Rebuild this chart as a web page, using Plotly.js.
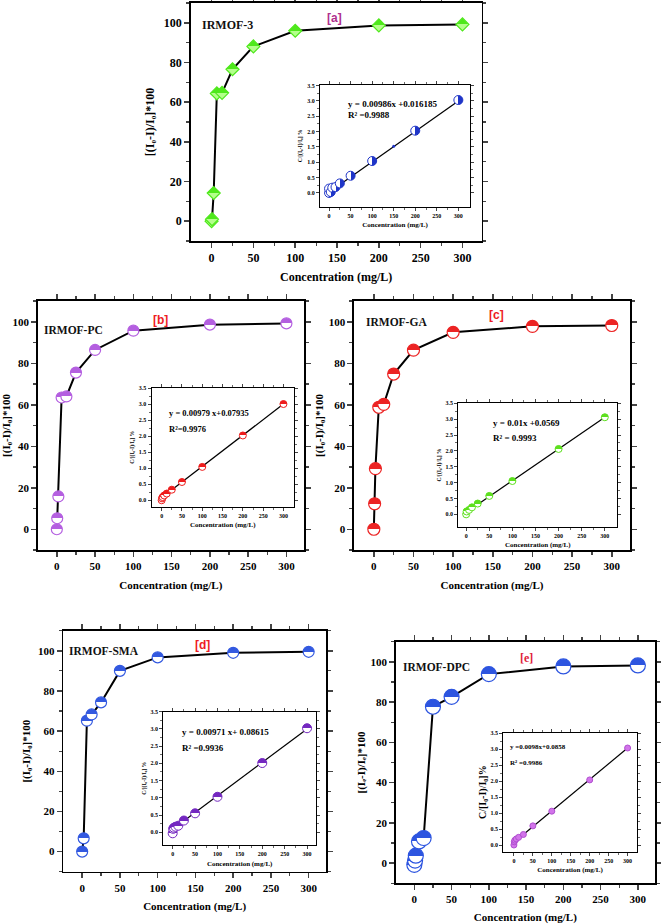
<!DOCTYPE html>
<html>
<head>
<meta charset="utf-8">
<script src="https://cdn.plot.ly/plotly-3.0.1.min.js"></script>
<style>html,body{margin:0;padding:0;background:#fff}#chart{width:661px;height:924px}</style>
</head>
<body>
<div id="chart"></div>
<script>
// ---------- data ----------
const concA = [0, 0.5, 2.5, 6.25, 12.5, 25, 50, 100, 200, 300];
const quenchA = [0, 1, 14.2, 64.4, 64.7, 76.6, 88.1, 96, 98.7, 99.2];
const concB = [0, 0.5, 2, 6.25, 12.5, 25, 50, 100, 200, 300];
const quenchB = [0, 5.3, 15.8, 63.5, 64, 75.5, 86.4, 95.7, 98.6, 99.2];
const concC = [0, 1, 2, 6.25, 12.5, 25, 50, 100, 200, 300];
const quenchC = [0, 12.3, 29.2, 58.8, 60.2, 74.8, 86.3, 94.9, 97.8, 98.2];
const concD = [0, 2, 6.25, 12.5, 25, 50, 100, 200, 300];
const quenchD = [0, 6.6, 65.2, 68.3, 74.3, 90, 96.7, 99, 99.5];
const concE = [0, 1, 2, 6.25, 12.5, 25, 50, 100, 200, 300];
const quenchE = [-0.8, 1.3, 3.7, 10.8, 12.5, 77.7, 82.6, 93.9, 97.7, 98.2];

// insets: C/[(I0-I)/I0]
const insA_x = [0, 0, 4, 7.5, 15, 25, 50, 100, 200, 300];
const insA_y = [0, 0.14, 0.03, 0.17, 0.19, 0.31, 0.56, 1.04, 2.03, 3.03];
const insA_dotX = [150];
const insA_dotY = [1.52];
const insB_x = [0, 1, 2.5, 6.25, 12.5, 25, 50, 100, 200, 300];
const insB_y = [0.0, 0.06, 0.1, 0.15, 0.21, 0.33, 0.57, 1.04, 2.02, 3.0];
const insC_x = [0, 1, 6.25, 12.5, 25, 50, 100, 200, 300];
const insC_y = [0, 0.09, 0.14, 0.22, 0.34, 0.58, 1.05, 2.06, 3.06];
const insD_x = [0, 1, 2.5, 6.25, 12.5, 25, 50, 100, 200, 300];
const insD_y = [-0.03, 0.1, 0.13, 0.16, 0.19, 0.34, 0.55, 1.03, 2.01, 3.02];
const insE_x = [0, 1, 2.5, 6.25, 12.5, 25, 50, 100, 200, 300];
const insE_y = [0.0, 0.1, 0.15, 0.19, 0.24, 0.33, 0.6, 1.06, 2.04, 3.04];

// linear-fit lines (end points)
const fitA_x = [0, 300], fitA_y = [0.02, 3.0];
const fitB_x = [10, 300], fitB_y = [0.18, 3.0];
const fitC_x = [10, 300], fitC_y = [0.16, 3.06];
const fitD_x = [0, 300], fitD_y = [0.09, 3.0];
const fitE_x = [25, 300], fitE_y = [0.33, 3.04];

const sampleNames = ['IRMOF-3', 'IRMOF-PC', 'IRMOF-GA', 'IRMOF-SMA', 'IRMOF-DPC'];
const panelTags = ['[a]', '[b]', '[c]', '[d]', '[e]'];
const equations = ['y = 0.00986x +0.016185', 'y = 0.00979 x+0.07935', 'y = 0.01x +0.0569', 'y = 0.00971 x+ 0.08615', 'y =0.0098x+0.0858'];
const rSquared = ['R² =0.9988', 'R²=0.9976', 'R² = 0.9993', 'R² =0.9936', 'R² =0.9986'];

// ---------- helpers ----------
const W = 661, H = 924;
const SERIF = 'Liberation Serif, Times New Roman, serif';
const SANS = 'Liberation Sans, Arial, sans-serif';
function dx(a, b) { return [a / W, b / W]; }
function dy(top, bot) { return [1 - bot / H, 1 - top / H]; }

function mainX(dom, fs, standoff, anchor) {
  return {domain: dom, anchor: anchor, range: [-25, 323], tickvals: [0, 50, 100, 150, 200, 250, 300],
    showline: true, mirror: 'allticks', linewidth: 1.6, linecolor: '#000', ticks: 'outside', ticklen: 5, tickwidth: 1.5,
    minor: {tickvals: [25, 75, 125, 175, 225, 275], ticks: 'outside', ticklen: 3, tickwidth: 1.2},
    showgrid: false, zeroline: false, tickfont: {family: SERIF, size: fs, weight: 700, color: '#000'},
    title: {text: 'Concentration (mg/L)', font: {family: SERIF, size: fs, weight: 700, color: '#000'}, standoff: standoff}};
}
function mainY(dom, fs, standoff, anchor, ttl) {
  return {domain: dom, anchor: anchor, range: [-10, 110], tickvals: [0, 20, 40, 60, 80, 100],
    showline: true, mirror: 'allticks', linewidth: 1.6, linecolor: '#000', ticks: 'outside', ticklen: 5, tickwidth: 1.5,
    minor: {tickvals: [-10, 10, 30, 50, 70, 90, 110], ticks: 'outside', ticklen: 3, tickwidth: 1.2},
    showgrid: false, zeroline: false, tickfont: {family: SERIF, size: fs, weight: 700, color: '#000'},
    title: {text: ttl, font: {family: SERIF, size: fs, weight: 700, color: '#000'}, standoff: standoff}};
}
function insX(dom, range, anchor) {
  return {domain: dom, anchor: anchor, range: range, tickvals: [0, 50, 100, 150, 200, 250, 300],
    showline: true, mirror: 'allticks', linewidth: 1, linecolor: '#000', ticks: 'outside', ticklen: 3, tickwidth: 1,
    minor: {tickvals: [25, 75, 125, 175, 225, 275], ticks: 'outside', ticklen: 2, tickwidth: 0.8},
    showgrid: false, zeroline: false, tickfont: {family: SERIF, size: 6, weight: 700, color: '#000'},
    title: {text: 'Concentration (mg/L)', font: {family: SERIF, size: 7, weight: 700, color: '#000'}, standoff: 4}};
}
function insY(dom, range, anchor, ttl, tfs, standoff) {
  return {domain: dom, anchor: anchor, range: range, tickvals: [0, 0.5, 1, 1.5, 2, 2.5, 3, 3.5], tickformat: '.1f',
    showline: true, mirror: 'allticks', linewidth: 1, linecolor: '#000', ticks: 'outside', ticklen: 3, tickwidth: 1,
    minor: {tickvals: [0.25, 0.75, 1.25, 1.75, 2.25, 2.75, 3.25], ticks: 'outside', ticklen: 2, tickwidth: 0.8},
    showgrid: false, zeroline: false, tickfont: {family: SERIF, size: 6, weight: 700, color: '#000'},
    title: {text: ttl, font: {family: SERIF, size: tfs, weight: 700, color: '#000'}, standoff: standoff}};
}

function mainTrace(x, y, xa, ya, sym, col, light, size) {
  return {type: 'scatter', mode: 'lines+markers', x: x, y: y, xaxis: xa, yaxis: ya, showlegend: false,
    line: {color: '#000', width: 2},
    marker: {symbol: sym, size: size, color: col, gradient: {type: 'vertical', color: light}, line: {color: col, width: 1.2}}};
}
function insTrace(x, y, xa, ya, col, light, size, gtype, lineCol) {
  return {type: 'scatter', mode: 'markers', x: x, y: y, xaxis: xa, yaxis: ya, showlegend: false,
    marker: {symbol: 'circle', size: size, color: col, gradient: {type: gtype, color: light}, line: {color: lineCol || col, width: 1}}};
}
function fitTrace(x, y, xa, ya) {
  return {type: 'scatter', mode: 'lines', x: x, y: y, xaxis: xa, yaxis: ya, showlegend: false, line: {color: '#000', width: 1.2}};
}

const yTitle0 = '[(I₀-I)/I₀]*100';
const yTitleE = '[(Iₑ-I)/Iₑ]*100';
const insTitle = 'C/[(I₀-I)/I₀] %';
const insTitleE = 'C/[I₀-I)/I₀]%';

const traces = [
  mainTrace(concA, quenchA, 'x', 'y', 'diamond', '#4fe81c', '#b4ff8c', 10),
  fitTrace(fitA_x, fitA_y, 'x2', 'y2'),
  insTrace(insA_x, insA_y, 'x2', 'y2', '#ffffff', '#1f35c8', 9, 'horizontal', '#1f35c8'),
  {type: 'scatter', mode: 'markers', x: insA_dotX, y: insA_dotY, xaxis: 'x2', yaxis: 'y2', showlegend: false, marker: {size: 3, color: '#1f35c8'}},

  mainTrace(concB, quenchB, 'x3', 'y3', 'circle', '#b45fe0', '#ffffff', 11),
  fitTrace(fitB_x, fitB_y, 'x4', 'y4'),
  insTrace(insB_x, insB_y, 'x4', 'y4', '#ee1c1c', '#ffffff', 7, 'vertical'),

  mainTrace(concC, quenchC, 'x5', 'y5', 'circle', '#ec2424', '#ffffff', 12),
  fitTrace(fitC_x, fitC_y, 'x6', 'y6'),
  insTrace(insC_x, insC_y, 'x6', 'y6', '#5de01e', '#ffffff', 7, 'vertical'),

  mainTrace(concD, quenchD, 'x7', 'y7', 'circle', '#3359e0', '#ffffff', 11),
  fitTrace(fitD_x, fitD_y, 'x8', 'y8'),
  insTrace(insD_x, insD_y, 'x8', 'y8', '#7428c0', '#ffffff', 9, 'vertical'),

  mainTrace(concE, quenchE, 'x9', 'y9', 'circle', '#2d55e0', '#ffffff', 15),
  fitTrace(fitE_x, fitE_y, 'x10', 'y10'),
  insTrace(insE_x, insE_y, 'x10', 'y10', '#d274ea', '#d274ea', 6, 'none', '#b04fd0')
];

const layout = {
  width: W, height: H, margin: {l: 0, r: 0, t: 0, b: 0},
  paper_bgcolor: '#fff', plot_bgcolor: '#fff', showlegend: false,
  xaxis: mainX(dx(190.7, 481.7), 12, 8, 'y'),
  yaxis: mainY(dy(3, 241), 12, 6, 'x', yTitle0),
  xaxis2: insX(dx(320, 470), [-21, 327], 'y2'),
  yaxis2: insY(dy(85, 206.7), [-0.45, 3.52], 'x2', insTitle, 5.5, 4),

  xaxis3: mainX(dx(37.7, 304), 11, 10, 'y3'),
  yaxis3: mainY(dy(301, 550), 11, 2, 'x3', yTitle0),
  xaxis4: insX(dx(151.5, 294), [-25, 326], 'y4'),
  yaxis4: insY(dy(388, 506.7), [-0.2, 3.5], 'x4', insTitle, 5.5, 3),

  xaxis5: mainX(dx(354, 630), 11, 10, 'y5'),
  yaxis5: mainY(dy(301, 550), 11, 3, 'x5', yTitle0),
  xaxis6: insX(dx(458.3, 617.3), [-17, 327], 'y6'),
  yaxis6: insY(dy(403.3, 526.7), [-0.39, 3.5], 'x6', insTitle, 5.5, 3),

  xaxis7: mainX(dx(63.3, 326), 11, 10, 'y7'),
  yaxis7: mainY(dy(630.7, 871.7), 11, 5, 'x7', yTitle0),
  xaxis8: insX(dx(163.3, 316), [-21, 320], 'y8'),
  yaxis8: insY(dy(711.7, 845), [-0.37, 3.5], 'x8', insTitle, 5.5, 3),

  xaxis9: mainX(dx(395.7, 655), 11, 10, 'y9'),
  yaxis9: mainY(dy(641.7, 883.3), 11, 2, 'x9', yTitleE),
  xaxis10: insX(dx(503.3, 636.7), [-28, 324], 'y10'),
  yaxis10: insY(dy(732.7, 851.7), [-0.21, 3.52], 'x10', insTitleE, 10, 2),

  annotations: []
};

// panel labels / equations as paper-positioned annotations
const namePos = [[227, 25], [73.5, 330], [396.8, 321.7], [103.8, 650.7], [436, 666.7]];
const tagPos = [[334, 18], [160, 320], [496.7, 315], [202.7, 645], [526.7, 658.3]];
const tagColor = ['#b0308e', '#ee1c24', '#ee1c24', '#ee1c24', '#e0203a'];
const eqPos = [[345.7, 104, 115], [167.3, 413.3, 429], [490.7, 423.3, 438.3], [180, 731.7, 748.3], [508.3, 747.3, 762.7]];
const eqSize = [9, 8.5, 9, 9, 7];
for (let i = 0; i < 5; i++) {
  layout.annotations.push({xref: 'paper', yref: 'paper', x: namePos[i][0] / W, y: 1 - namePos[i][1] / H, xanchor: 'center', yanchor: 'middle', showarrow: false,
    text: sampleNames[i], font: {family: SERIF, size: i === 0 ? 12 : 11.5, weight: 700, color: '#111'}});
  layout.annotations.push({xref: 'paper', yref: 'paper', x: tagPos[i][0] / W, y: 1 - tagPos[i][1] / H, xanchor: 'center', yanchor: 'middle', showarrow: false,
    text: panelTags[i], font: {family: i === 4 ? SERIF : SANS, size: 12, weight: 700, color: tagColor[i]}});
  layout.annotations.push({xref: 'paper', yref: 'paper', x: eqPos[i][0] / W, y: 1 - eqPos[i][1] / H, xanchor: 'left', yanchor: 'middle', showarrow: false,
    text: equations[i], font: {family: SERIF, size: eqSize[i], weight: 700, color: '#000'}});
  layout.annotations.push({xref: 'paper', yref: 'paper', x: eqPos[i][0] / W, y: 1 - eqPos[i][2] / H, xanchor: 'left', yanchor: 'middle', showarrow: false,
    text: rSquared[i], font: {family: SERIF, size: eqSize[i], weight: 700, color: '#000'}});
}

Plotly.newPlot('chart', traces, layout, {staticPlot: true, displayModeBar: false}).then(function () {
  // make the two-tone marker fills split sharply at the middle (half-filled symbols)
  document.querySelectorAll('#chart linearGradient').forEach(function (g) {
    const stops = g.querySelectorAll('stop');
    if (stops.length !== 2) return;
    const m0 = stops[0].cloneNode(); m0.setAttribute('offset', '50%');
    const m1 = stops[1].cloneNode(); m1.setAttribute('offset', '50%');
    g.insertBefore(m0, stops[1]);
    g.insertBefore(m1, stops[1]);
  });
});
</script>
</body>
</html>
